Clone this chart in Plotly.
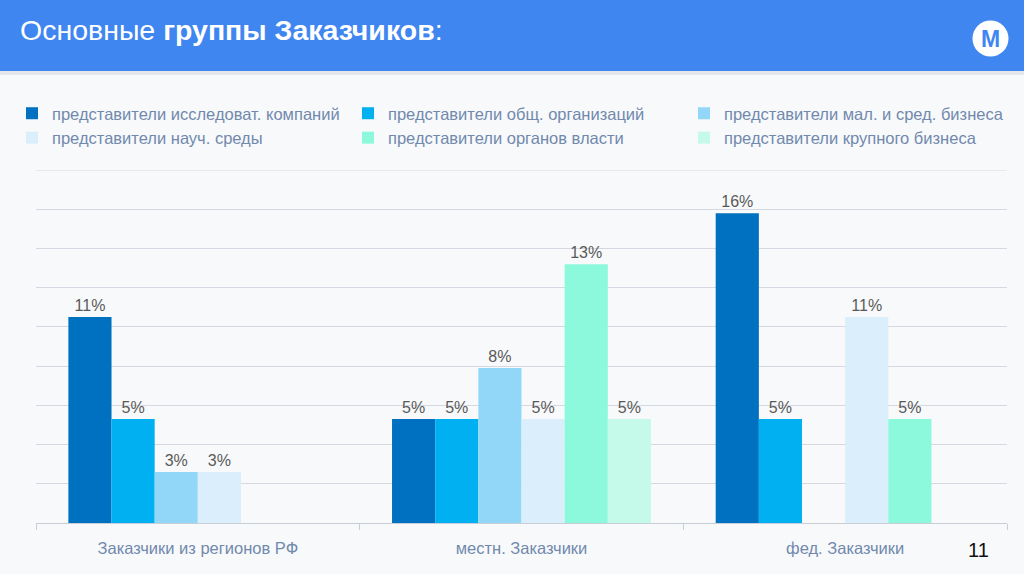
import plotly.graph_objects as go

# ---- data (percent of customers) ----
categories = ["Заказчики из регионов РФ", "местн. Заказчики", "фед. Заказчики"]
series_names = [
    "представители исследоват. компаний",
    "представители общ. организаций",
    "представители мал. и сред. бизнеса",
    "представители науч. среды",
    "представители органов власти",
    "представители крупного бизнеса",
]
research_cos = [10.5, 5.3, 15.8]
public_orgs = [5.3, 5.3, 5.3]
small_mid_biz = [2.6, 7.9, None]
science = [2.6, 5.3, 10.5]
authorities = [None, 13.2, 5.3]
big_biz = [None, 5.3, None]
series_values = [research_cos, public_orgs, small_mid_biz, science, authorities, big_biz]
colors = ["#0070C0", "#00B0F0", "#92D7F7", "#DAEFFB", "#8CF9DC", "#C5FAEA"]
y_max = 18
y_step = 2

W, H = 1024, 574
ML, MR, MT, MB = 36, 17, 170, 51
PW = W - ML - MR
PH = H - MT - MB
GRID = "#D5D8E0"


def px_x(p):
    return (p - ML) / PW


def px_y(p):
    return (H - MB - p) / PH


fig = go.Figure()
for name, vals, col in zip(series_names, series_values, colors):
    fig.add_trace(go.Bar(
        x=categories, y=vals, name=name,
        marker=dict(color=col, line=dict(width=0)),
        texttemplate="%{y:.0f}%", textposition="outside",
        textfont=dict(size=16, color="#595959", family="Liberation Sans"),
        cliponaxis=False, hoverinfo="skip",
    ))

shapes = [
    # top gridline (range edge)
    dict(type="line", xref="paper", yref="y", x0=0, x1=1, y0=y_max, y1=y_max,
         line=dict(color=GRID, width=1), layer="below"),
    # header band
    dict(type="rect", xref="paper", yref="paper",
         x0=px_x(-2), x1=px_x(W + 2), y0=px_y(71), y1=px_y(-2),
         fillcolor="#3F86F1", line=dict(width=0), layer="above"),
    # header shadow
    dict(type="rect", xref="paper", yref="paper",
         x0=px_x(-2), x1=px_x(W + 2), y0=px_y(75), y1=px_y(71),
         fillcolor="#E4E7EC", line=dict(width=0), layer="above"),
    # logo circle
    dict(type="circle", xref="paper", yref="paper",
         x0=px_x(972.5), x1=px_x(1008.5), y0=px_y(56.5), y1=px_y(20.5),
         fillcolor="white", line=dict(width=0), layer="above"),
]

annotations = [
    dict(text="<b>M</b>", xref="paper", yref="paper", x=px_x(990.5), y=px_y(39),
         xanchor="center", yanchor="middle", showarrow=False,
         font=dict(size=23, color="#3F86F1", family="Liberation Sans")),
    dict(text="11", xref="paper", yref="paper", x=px_x(978), y=px_y(550),
         xanchor="center", yanchor="middle", showarrow=False,
         font=dict(size=20, color="#111111", family="Liberation Sans")),
]

fig.update_layout(
    width=W, height=H,
    margin=dict(l=ML, r=MR, t=MT, b=MB, autoexpand=False),
    paper_bgcolor="#F8F9FB", plot_bgcolor="#F8F9FB",
    barmode="group", bargap=0.2, bargroupgap=0,
    font=dict(family="Liberation Sans", color="#7189AD"),
    title=dict(text="Основные <b>группы Заказчиков</b>:",
               x=20 / W, xanchor="left", xref="container",
               y=1 - 30 / H, yanchor="middle", yref="container",
               font=dict(size=28.5, color="white", family="Liberation Sans")),
    showlegend=True,
    legend=dict(orientation="h", x=px_x(12), y=px_y(96),
                xanchor="left", yanchor="top",
                bgcolor="rgba(0,0,0,0)", borderwidth=0,
                font=dict(size=16.5, color="#7189AD", family="Liberation Sans"),
                itemwidth=30, entrywidth=291, entrywidthmode="pixels",
                traceorder="normal", itemclick=False, itemdoubleclick=False),
    shapes=shapes, annotations=annotations,
    hovermode=False,
    xaxis=dict(showline=True, linecolor="#C9CDD6", linewidth=1,
               ticks="outside", tickson="boundaries", ticklen=6,
               tickcolor="#C9CDD6", ticklabelstandoff=10,
               tickfont=dict(size=16.5, color="#7189AD", family="Liberation Sans"),
               showgrid=False, fixedrange=True),
    yaxis=dict(range=[0, y_max], dtick=y_step, showgrid=True, gridcolor=GRID,
               gridwidth=1, zeroline=False, showticklabels=False,
               showline=False, fixedrange=True),
)

fig.write_html("out.html", config={"displayModeBar": False},
               post_script="document.body.style.margin='0';document.body.style.padding='0';")
